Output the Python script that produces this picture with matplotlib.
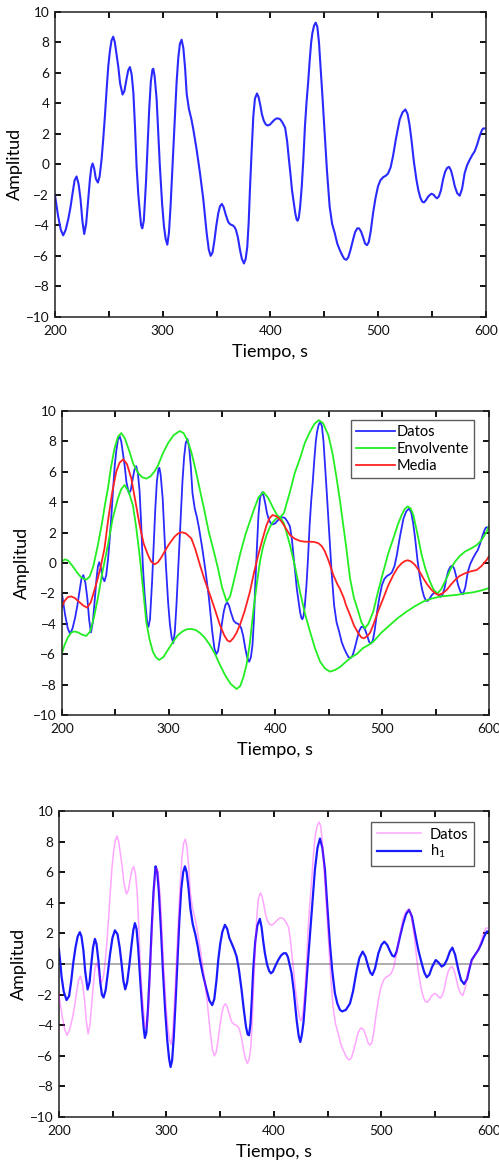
import matplotlib
matplotlib.use("Agg")
import matplotlib.pyplot as plt
from matplotlib.ticker import MultipleLocator

plt.rcParams['font.family'] = ['Lato', 'DejaVu Sans']
plt.rcParams['mathtext.default'] = 'regular'

# Señal original
t_datos = [200, 203, 205.5, 207.7, 210, 212.4, 214.5, 216.4, 218.3, 220.1, 222, 223.8, 225.5, 227.2,
           229, 230.9, 232.5, 233.8, 235, 236.5, 238, 239.9, 241.5, 243.3, 244.8, 246.4, 248, 249.5,
           251, 252.5, 254.1, 255.6, 257.2, 258.8, 260.5, 262.8, 264.5, 266.5, 268, 269.6, 271.2,
           272.8, 274.3, 275.8, 277.3, 278.9, 280, 281.1, 282.5, 284.5, 286, 287.5, 289, 290.5,
           291.3, 292.5, 294.4, 296, 297.4, 299.5, 301.2, 302.8, 304.3, 305.8, 307.3, 308.5, 309.8,
           311.3, 312.9, 314.5, 316, 317.6, 319.2, 320.8, 322.3, 324.4, 326.5, 328.4, 331.5, 334.6,
           337.7, 340.8, 342.8, 344.5, 346.2, 348, 349.8, 351.6, 353.2, 354.9, 356.5, 358.5, 360.9,
           363, 364.9, 366.5, 368, 369.8, 371.7, 373.5, 375.4, 377, 378.5, 379.8, 381, 382.5, 384.1,
           385.6, 387.5, 389, 390.5, 392, 393.8, 395.8, 397.5, 399.5, 401.5, 403.5, 405.5, 407.3,
           409, 411, 413.6, 415.5, 417, 418.5, 420, 421.4, 423, 424.2, 425.2, 426.3, 427.5, 429,
           430.5, 432, 433.5, 434.9, 436.5, 437.8, 438.9, 440.5, 442, 443.5, 445, 446.5, 448, 450.3,
           452.5, 454.9, 457.2, 459.6, 462, 464.2, 466.5, 468.5, 470.4, 472.2, 474.3, 476.6, 478.5,
           480.5, 482.2, 484, 486, 487.8, 489.6, 491.2, 493, 495.2, 497.5, 499.8, 502, 504.5, 507,
           509.1, 511.5, 513.7, 516.5, 519.9, 522.5, 525.2, 527.2, 529, 530.8, 533, 535.4, 537.2,
           539.1, 540.8, 542.5, 544.3, 546.5, 549.3, 551.5, 553, 554.6, 556.3, 558.2, 560.1, 562,
           563.8, 565.7, 567.5, 569.3, 571, 573.3, 575.6, 577.8, 580.2, 582.5, 584.9, 587.2, 589.5,
           591.8, 594.1, 596, 597.2, 600]
datos = [-2.0, -3.4, -4.3, -4.66, -4.3, -3.6, -2.8, -1.9, -1.05, -0.8, -1.3, -2.3, -3.7, -4.57,
         -3.9, -2.3, -1.0, -0.2, 0.05, -0.3, -0.95, -1.2, -0.8, 0.3, 1.6, 3.15, 4.9, 6.4,
         7.4, 8.1, 8.36, 8.0, 7.2, 6.4, 5.3, 4.57, 4.8, 5.6, 6.15, 6.37, 5.9,
         4.7, 2.5, -0.13, -1.9, -3.2, -4.0, -4.2, -3.7, -1.2, 1.2, 3.6, 5.4, 6.2,
         6.26, 5.8, 4.25, 1.9, -0.13, -2.6, -4.07, -4.9, -5.27, -4.5, -2.76, -1.0, 0.96,
         3.2, 5.34, 7.0, 7.9, 8.16, 7.6, 6.3, 4.6, 3.6, 3.0, 2.3, 0.96, -0.57,
         -2.3, -4.5, -5.6, -6.0, -5.8, -5.0, -4.0, -3.2, -2.75, -2.6, -2.8, -3.3, -3.8,
         -3.95, -4.0, -4.1, -4.3, -4.8, -5.6, -6.2, -6.5, -6.2, -5.4, -3.8, -1.6, 0.8, 3.15,
         4.3, 4.64, 4.4, 3.9, 3.3, 2.85, 2.6, 2.54, 2.6, 2.75, 2.9, 3.0, 3.0,
         2.95, 2.75, 2.4, 1.5, 0.4, -0.6, -1.7, -2.4, -3.2, -3.6, -3.7, -3.5, -2.8, -1.5,
         0.3, 2.5, 4.1, 5.3, 6.9, 8.0, 8.6, 9.1, 9.28, 9.0, 8.0, 6.4, 4.7, 2.06,
         -0.5, -2.76, -3.9, -4.5, -5.2, -5.6, -5.95, -6.2, -6.26, -6.1, -5.6, -4.95, -4.45,
         -4.2, -4.2, -4.4, -4.8, -5.2, -5.3, -5.1, -4.4, -3.2, -2.2, -1.44, -1.05, -0.85, -0.75,
         -0.61, -0.2, 0.53, 1.7, 2.93, 3.4, 3.59, 3.3, 2.6, 1.62, 0.2, -1.0, -1.7,
         -2.2, -2.45, -2.5, -2.35, -2.1, -1.93, -2.0, -2.15, -2.23, -2.1, -1.7, -1.0, -0.5,
         -0.25, -0.17, -0.4, -0.9, -1.44, -1.9, -2.06, -1.6, -0.57, -0.05, 0.3, 0.6, 0.85,
         1.3, 1.84, 2.2, 2.34, 2.35]

# Envolvente superior
t_env_sup = [200, 203, 206, 210, 214, 218, 222.8, 226, 229.5, 233.7, 237.5, 240.5, 243.1, 246,
             249.3, 252.5, 255.6, 259, 263.4, 267, 271.2, 275, 279, 283, 286.5, 289.9, 294.5,
             299.3, 304.5, 310.2, 314, 318, 321.2, 325, 329.3, 333.6, 337.7, 341.8, 346, 350,
             354.3, 357.5, 361, 366.7, 372, 379.2, 384, 388.6, 393, 398, 401.5, 404.2, 408,
             413.6, 418, 423, 427.5, 432.4, 436.5, 440.5, 444.5, 449.5, 453.5, 457.3, 461, 466,
             469.8, 473.5, 477.6, 480.5, 483.8, 487, 491.6, 496, 501, 505.5, 510.4, 514.5,
             518.2, 521, 523.8, 526.5, 529.1, 533, 536.9, 540.5, 544.7, 548, 551.6, 555,
             560.3, 564, 568.2, 572.5, 577.5, 583, 588.5, 593, 597.8, 600]
env_sup = [0.1, 0.24, 0.15, -0.2, -0.6, -0.95, -1.1, -0.9, -0.2, 1.18, 2.6, 3.9, 4.9, 6.3,
           7.54, 8.3, 8.55, 8.2, 7.3, 6.5, 5.95, 5.65, 5.55, 5.7, 6.0, 6.4, 7.2,
           7.87, 8.4, 8.68, 8.55, 8.0, 7.3, 6.2, 4.8, 3.4, 2.0, 0.9, -0.3, -1.6,
           -2.54, -2.2, -1.2, 0.53, 1.9, 3.38, 4.3, 4.68, 4.3, 3.6, 3.15, 2.98, 3.3,
           4.69, 5.9, 6.89, 7.9, 8.64, 9.15, 9.4, 9.2, 8.42, 7.2, 5.57, 3.8, 1.18,
           -1.0, -2.3, -3.2, -3.9, -4.3, -4.0, -3.2, -1.9, -0.57, 0.6, 1.62, 2.5,
           3.16, 3.55, 3.72, 3.6, 3.16, 1.9, 0.53, -0.4, -1.23, -1.75, -2.0, -1.75,
           -1.0, -0.4, 0.09, 0.45, 0.75, 0.95, 1.18, 1.5, 2.06, 2.45]

# Envolvente inferior
t_env_inf = [200, 202.5, 205.6, 208.5, 211.2, 214.5, 218.5, 222.8, 226.5, 230, 233.7, 238,
             243.1, 247.5, 252.5, 255.5, 258.7, 262.5, 266.5, 269.5, 272.8, 276, 279, 282,
             285.2, 288, 290.9, 295, 299.3, 304, 308.7, 313, 317, 321.2, 325, 329.3, 333.6,
             338.7, 343.5, 348, 353, 358, 363.6, 367, 370, 372.9, 376, 379.2, 382.5, 385.5,
             388.5, 391.7, 395, 398, 401, 404.2, 408, 413.6, 418.5, 423, 427.5, 432.4, 437,
             441.8, 446.5, 451.1, 455.5, 460.4, 466, 471, 476, 482, 487, 491.6, 499, 507.2,
             515, 522.8, 530.5, 538.4, 546, 554, 562, 569.7, 577.5, 585.3, 593, 600]
env_inf = [-5.94, -5.4, -4.9, -4.6, -4.5, -4.55, -4.7, -4.8, -4.5, -3.6, -2.3, -0.6,
           1.18, 2.9, 4.25, 4.85, 5.13, 4.7, 3.8, 2.4, 0.5, -1.7, -3.86, -5.0,
           -5.83, -6.2, -6.38, -6.2, -5.72, -5.2, -4.74, -4.5, -4.36, -4.34, -4.4, -4.6, -4.9,
           -5.4, -6.0, -6.7, -7.4, -7.95, -8.29, -8.1, -7.5, -6.7, -5.3, -3.2, -1.4, 0.09,
           1.1, 1.84, 2.4, 2.72, 2.95, 3.05, 2.6, 1.18, -0.3, -1.89, -3.3, -4.52, -5.6,
           -6.49, -6.95, -7.15, -7.05, -6.85, -6.5, -6.2, -6.0, -5.6, -5.4, -5.18, -4.6, -4.08,
           -3.6, -3.2, -2.85, -2.54, -2.35, -2.21, -2.15, -2.1, -2.0, -1.93, -1.8, -1.65]

# Media de las envolventes
t_media = [200, 202.5, 205.5, 208.7, 212, 216, 220, 223.7, 227, 230, 233.7, 236.5, 240, 243.1,
           247, 250.9, 254, 257.5, 261, 265, 268.5, 272.8, 276.5, 280.6, 283.5, 286.8, 290, 293,
           296.2, 300, 305.5, 309, 312.4, 316, 321.2, 325, 329.3, 333.6, 338.7, 343.5, 348, 352,
           355, 357.4, 360.5, 363.5, 366.7, 371, 376.1, 380, 383.9, 388, 391.7, 394.5, 397.4,
           401.5, 405.8, 409.5, 413.6, 418, 423, 427.5, 432.4, 436.5, 440.2, 443.5, 446.4, 450,
           454.2, 458, 460.4, 464, 466, 469.8, 473.5, 477.6, 480.5, 482.9, 486, 488.5, 491.6,
           496, 501, 505.5, 510.4, 514.5, 518.2, 521, 523.8, 527, 530.7, 534.5, 538.4, 542,
           546.3, 549.5, 552.8, 556.5, 560.3, 564, 568.2, 572.5, 577.5, 583, 588.5, 593, 597.8, 600]
media = [-2.87, -2.5, -2.25, -2.2, -2.3, -2.55, -2.8, -2.94, -2.6, -1.9, -1.0, -0.2, 1.0, 2.72,
         4.6, 6.0, 6.6, 6.82, 6.5, 5.57, 4.2, 2.5, 1.3, 0.53, 0.1, -0.09, 0.05, 0.35,
         0.75, 1.2, 1.73, 1.95, 2.02, 1.95, 1.62, 0.9, -0.13, -1.1, -2.1, -3.1, -4.08, -4.75,
         -5.1, -5.18, -4.95, -4.6, -4.08, -3.2, -1.89, -0.6, 0.53, 1.6, 2.5, 2.95, 3.16,
         3.05, 2.72, 2.3, 1.84, 1.6, 1.45, 1.4, 1.4, 1.38, 1.3, 1.1, 0.75, 0.1,
         -0.79, -1.4, -1.7, -2.3, -2.76, -3.42, -4.1, -4.63, -4.9, -4.96, -4.8, -4.6, -4.08,
         -3.2, -2.32, -1.5, -0.79, -0.3, -0.02, 0.12, 0.18, 0.1, -0.13, -0.5, -1.0, -1.4,
         -1.78, -2.0, -2.1, -2.0, -1.78, -1.45, -1.12, -0.85, -0.68, -0.55, -0.46, -0.2, 0.2, 0.45]

# Primera componente h1
t_h1 = [200, 201.3, 202.5, 204.5, 207.1, 209.5, 211.5, 213.3, 215.5, 217.5, 219.5, 221, 222.8,
        224.5, 226.7, 228.5, 230, 231.8, 233.5, 235, 236.8, 238.5, 240, 241.6, 243.5, 245.5,
        247.5, 249.8, 252.1, 254.5, 256.5, 258.5, 260, 261.7, 263.5, 265.5, 267.5, 269.2,
        270.7, 272.2, 273.8, 275.5, 277.5, 279, 280, 281.3, 282.8, 284.5, 286.2, 288, 289.9,
        291.5, 293, 294.8, 296.8, 298.8, 300.8, 302.5, 303.9, 305.3, 306.8, 308.5, 310.3, 312,
        313.8, 315.6, 317.2, 318.8, 320.5, 322.3, 324.5, 327, 329, 331.2, 334, 337.4, 340,
        342.6, 344.5, 346.5, 348.2, 350, 352, 354.4, 356.5, 358.5, 360.6, 363, 365.3, 367.5,
        369.9, 372, 374, 375.5, 376.8, 378.2, 379.5, 380.7, 382.5, 384.5, 386.9, 388.5, 390,
        391.6, 393.5, 395.5, 397.2, 399, 401.5, 404, 406.5, 409, 411.2, 413, 414.8, 416.4,
        418.5, 421.1, 423, 424.5, 426, 427.5, 428.8, 431, 433.4, 435.8, 438.1, 440.5, 442.8,
        445, 447.4, 449.7, 452, 454.3, 456.7, 459, 461.4, 463.5, 466.9, 470.7, 473.5, 477,
        479.5, 482.5, 485, 487.7, 489.5, 491.5, 494, 497.1, 500, 502.6, 505.3, 508.1, 510,
        511.9, 514, 517.2, 520, 522.8, 525.6, 528.3, 531.2, 534.3, 537.4, 539.8, 542.1, 544.5,
        547, 550.4, 553, 556, 558.5, 561, 563.5, 565.9, 568.5, 571.5, 574, 576.8, 579.5,
        581.5, 583.9, 587, 590.1, 593, 595.5, 597.9, 600]
h1 = [0.98, 0.1, -0.83, -1.8, -2.36, -2.1, -1.1, 0.04, 1.1, 1.8, 2.08, 1.8, 0.9,
      -0.5, -1.66, -1.2, -0.1, 1.1, 1.64, 1.3, 0.2, -1.2, -2.0, -2.19, -1.7, -0.6,
      0.6, 1.7, 2.2, 1.95, 1.1, -0.1, -1.1, -1.66, -1.2, -0.1, 1.2, 2.2,
      2.67, 2.3, 1.0, -0.9, -3.0, -4.3, -4.83, -4.5, -3.0, -0.6, 2.2, 4.7, 6.38,
      6.0, 4.7, 2.4, -0.5, -3.0, -5.0, -6.2, -6.73, -6.3, -4.8, -2.5, 0.3, 2.8,
      4.9, 6.0, 6.38, 6.0, 5.0, 3.6, 2.6, 1.9, 1.2, 0.26, -0.7, -1.7, -2.4,
      -2.69, -2.3, -1.1, 0.26, 1.3, 2.1, 2.56, 2.3, 1.7, 1.36, 0.95, 0.48, -0.4,
      -1.7, -3.0, -4.1, -4.6, -4.66, -3.9, -2.2, -0.39, 1.4, 2.5, 2.95, 2.4, 1.5,
      0.7, 0.0, -0.45, -0.61, -0.5, -0.1, 0.26, 0.55, 0.7, 0.7, 0.45, -0.1, -0.61,
      -1.8, -3.67, -4.7, -5.1, -4.6, -3.8, -2.58, -0.4, 1.79, 4.0, 6.16, 7.6, 8.2,
      7.6, 6.16, 3.7, 1.36, -0.5, -1.92, -2.6, -3.0, -3.1, -3.0, -2.58, -1.8, -0.39,
      0.4, 0.81, 0.5, -0.17, -0.55, -0.72, -0.3, 0.7, 1.25, 1.46, 1.25, 0.81, 0.55,
      0.48, 0.8, 1.79, 2.6, 3.25, 3.54, 3.1, 2.01, 0.9, 0.04, -0.55, -0.87, -0.7,
      -0.2, 0.26, 0.1, -0.17, -0.05, 0.3, 0.8, 1.07, 0.6, -0.39, -1.05, -1.31, -1.0,
      -0.4, 0.26, 0.6, 0.92, 1.35, 1.8, 2.12, 2.12]

x_ticks = [200, 300, 400, 500, 600]
y_ticks = [-10, -8, -6, -4, -2, 0, 2, 4, 6, 8, 10]


def style_axes(ax):
    """Ejes con marcas hacia dentro en los cuatro lados."""
    ax.set_xlim(200, 600)
    ax.set_ylim(-10, 10)
    ax.set_xticks(x_ticks)
    ax.set_yticks(y_ticks)
    ax.xaxis.set_minor_locator(MultipleLocator(50))
    ax.tick_params(which='both', direction='in', top=True, right=True,
                   length=4.5, width=1.4, labelsize=9.8, colors='#111111')
    ax.tick_params(axis='x', pad=6)
    ax.tick_params(axis='y', pad=4)
    for sp in ax.spines.values():
        sp.set_linewidth(1.1)
        sp.set_color('#222222')
    ax.set_xlabel('Tiempo, s', fontsize=13, labelpad=5)
    ax.set_ylabel('Amplitud', fontsize=13, labelpad=2)


fig = plt.figure(figsize=(4.99, 11.65), dpi=100)

# Panel 1: datos
ax1 = fig.add_axes([0.110, 0.728, 0.864, 0.262])
ax1.plot(t_datos, datos, color='#2a2aff', lw=1.5)
style_axes(ax1)

# Panel 2: datos, envolventes y media
ax2 = fig.add_axes([0.124, 0.3863, 0.856, 0.2609])
ax2.plot(t_datos, datos, color='#2a2aff', lw=1.3, label='Datos')
ax2.plot(t_env_sup, env_sup, color='#22ee22', lw=1.3, label='Envolvente')
ax2.plot(t_env_inf, env_inf, color='#22ee22', lw=1.3)
ax2.plot(t_media, media, color='#ff2222', lw=1.3, label='Media')
style_axes(ax2)
leg = ax2.legend(loc='upper right', bbox_to_anchor=(0.965, 0.97), fontsize=10.5, frameon=True,
                 fancybox=False, handlelength=2.7, handletextpad=0.1, labelspacing=0.2,
                 borderpad=0.35, borderaxespad=0)
leg.get_frame().set_edgecolor('#333333')
leg.get_frame().set_linewidth(1.0)

# Panel 3: datos y h1
ax3 = fig.add_axes([0.118, 0.0412, 0.862, 0.2627])
ax3.axhline(0, color='#a0a0a0', lw=1.2, zorder=1)
ax3.plot(t_datos, datos, color='#ff00ff', alpha=0.35, lw=1.1, label='Datos', zorder=3)
ax3.plot(t_h1, h1, color='#1a1aff', lw=1.6, label='h$_1$', zorder=2)
style_axes(ax3)
leg3 = ax3.legend(loc='upper right', bbox_to_anchor=(0.965, 0.965), fontsize=10.5, frameon=True,
                  fancybox=False, handlelength=3.0, handletextpad=0.6, labelspacing=0.1,
                  borderpad=0.4, borderaxespad=0)
leg3.get_frame().set_edgecolor('#333333')
leg3.get_frame().set_linewidth(1.0)

fig.savefig('out.png', dpi=100)
